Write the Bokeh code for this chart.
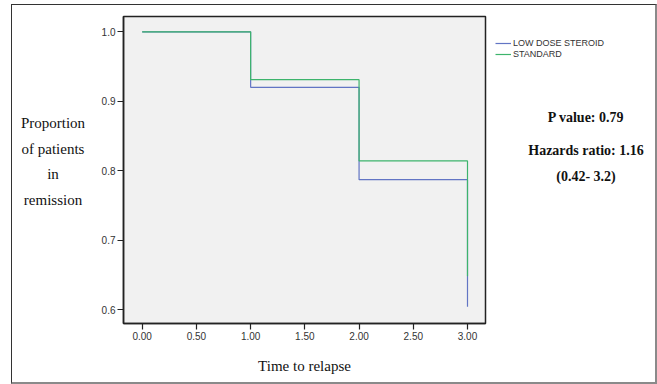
from bokeh.plotting import figure
from bokeh.layouts import row
from bokeh.models import Label, Legend, LegendItem, Range1d, FixedTicker, NumeralTickFormatter
from bokeh.embed import file_html
from bokeh.resources import INLINE

# Data (Kaplan-Meier style step curves)
time = [0.0, 1.0, 2.0, 3.0]
low_dose = [1.0, 0.92, 0.787, 0.604]
standard = [1.0, 0.931, 0.814, 0.648]
series_names = ["LOW DOSE STEROID", "STANDARD"]
series_colors = ["#6275c4", "#3db46c"]
x_ticks = [0.0, 0.5, 1.0, 1.5, 2.0, 2.5, 3.0]
y_ticks = [0.6, 0.7, 0.8, 0.9, 1.0]
ylabel_lines = ["Proportion", "of patients", "in", "remission"]
xlabel = "Time to relapse"
stats_lines = ["P value: 0.79", "Hazards ratio: 1.16", "(0.42- 3.2)"]

OX, OY = 12, 5            # content origin in page pixels
FL, FT, FR, FB = 123, 16, 485, 323  # main frame edges in page pixels
H = 377
X1 = 95                    # page x where the main figure starts
X2 = 490                   # page x where the right panel starts
W0 = X1 - OX
W1 = X2 - X1
W2 = 643 - W0 - W1


def blank(width):
    f = figure(width=width, height=H, output_backend="svg", toolbar_location=None,
               x_range=Range1d(0, 1), y_range=Range1d(0, 1),
               min_border_left=0, min_border_right=0,
               min_border_top=FT - OY, min_border_bottom=OY + H - FB)
    f.axis.visible = False
    f.grid.visible = False
    f.outline_line_color = None
    f.background_fill_color = "white"
    f.border_fill_color = "white"
    return f


# left panel: y-axis title, centred lines
p0 = blank(W0)
for t, yy in zip(ylabel_lines, [122, 148, 173, 199]):
    p0.add_layout(Label(x=52.5 - OX, y=FB - yy, x_units="screen", y_units="screen", text=t,
                        text_align="center", text_baseline="middle",
                        text_font="Liberation Serif", text_font_size="15px", text_color="#111"))

# main plot
p = figure(width=W1, height=H, output_backend="svg", toolbar_location=None,
           x_range=Range1d(-0.1725, 3.166), y_range=Range1d(0.58, 1.022),
           min_border_left=FL - X1, min_border_right=X2 - FR,
           min_border_top=FT - OY, min_border_bottom=OY + H - FB)
p.background_fill_color = "#f1f1f1"
p.border_fill_color = "white"
p.outline_line_color = "#222"
p.outline_line_width = 1.5
p.grid.visible = False

p.step(time, low_dose, mode="after", line_color=series_colors[0], line_width=1.2)
p.step(time, standard, mode="after", line_color=series_colors[1], line_width=1.2)

for ax in (p.xaxis[0], p.yaxis[0]):
    ax.axis_line_color = "#222"
    ax.axis_line_width = 1.5
    ax.major_tick_line_color = "#222"
    ax.major_tick_line_width = 1.2
    ax.major_tick_in = 0
    ax.major_tick_out = 6
    ax.minor_tick_line_color = None
    ax.major_label_text_font = "Liberation Sans"
    ax.major_label_text_font_size = "10px"
    ax.major_label_text_color = "#333"
    ax.major_label_standoff = 2
p.xaxis[0].ticker = FixedTicker(ticks=x_ticks)
p.yaxis[0].ticker = FixedTicker(ticks=y_ticks)
p.xaxis[0].formatter = NumeralTickFormatter(format="0.00")
p.yaxis[0].formatter = NumeralTickFormatter(format="0.0")

p.xaxis[0].axis_label = xlabel
p.xaxis[0].axis_label_standoff = 15
p.xaxis[0].axis_label_text_font = "Liberation Serif"
p.xaxis[0].axis_label_text_font_size = "15px"
p.xaxis[0].axis_label_text_font_style = "normal"
p.xaxis[0].axis_label_text_color = "#111"

# right-hand panel: legend and statistics
p2 = blank(W2)
d1 = p2.step([-2, -1], [-2, -1], mode="after", line_color=series_colors[0], line_width=1.2)
d2 = p2.step([-2, -1], [-2, -1], mode="after", line_color=series_colors[1], line_width=1.2)
legend = Legend(items=[LegendItem(label=series_names[0], renderers=[d1]),
                       LegendItem(label=series_names[1], renderers=[d2])],
                location=(495 - X2, FB - 59), orientation="vertical",
                label_text_font="Liberation Sans", label_text_font_size="9px",
                label_text_color="#333", glyph_width=16, glyph_height=10,
                label_height=10, spacing=1, padding=0, margin=0,
                border_line_color=None, background_fill_alpha=0,
                label_standoff=2)
p2.add_layout(legend, "center")

for t, yy in zip(stats_lines, [117, 150, 176]):
    p2.add_layout(Label(x=585.5 - X2, y=FB - yy, x_units="screen", y_units="screen", text=t,
                        text_align="center", text_baseline="middle", text_font_style="bold",
                        text_font="Liberation Serif", text_font_size="14px", text_color="#111"))

layout = row(p0, p, p2)
layout.styles = {"border-left": "1px solid #333", "border-top": "1px solid #333",
                 "border-right": "2px solid #8a8a8a", "border-bottom": "2px solid #8a8a8a",
                 "margin-left": "11px", "margin-top": "4px"}

open("out.html", "w").write(file_html(layout, INLINE))
